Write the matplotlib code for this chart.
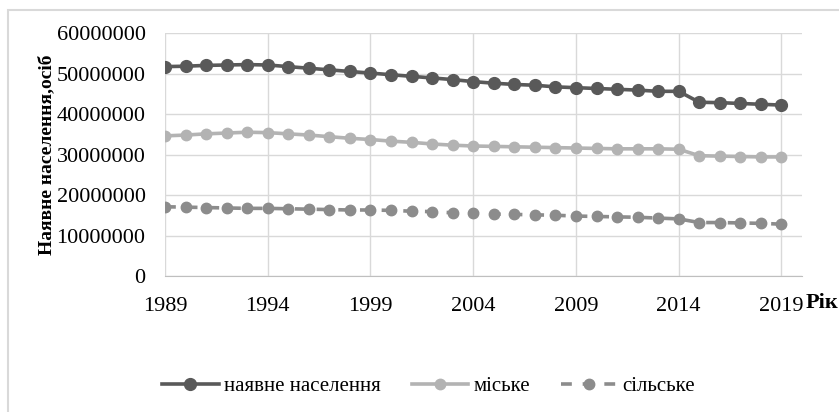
import matplotlib.pyplot as plt
from matplotlib.patches import Rectangle

years = list(range(1989, 2020))
total = [51.7, 51.8, 52.0, 52.1, 52.2, 52.1, 51.7, 51.3, 50.9, 50.5, 50.1, 49.7,
         49.3, 48.9, 48.5, 48.0, 47.6, 47.3, 47.1, 46.7, 46.5, 46.3, 46.1, 45.9,
         45.6, 45.6, 42.9, 42.8, 42.6, 42.4, 42.2]
urban = [34.6, 34.8, 35.1, 35.3, 35.5, 35.4, 35.1, 34.8, 34.4, 34.0, 33.7, 33.3,
         33.0, 32.6, 32.3, 32.1, 32.0, 31.9, 31.8, 31.7, 31.6, 31.5, 31.4, 31.4,
         31.4, 31.3, 29.7, 29.6, 29.5, 29.4, 29.4]
rural = [17.1, 17.0, 16.9, 16.8, 16.7, 16.7, 16.6, 16.5, 16.4, 16.3, 16.3, 16.2,
         16.0, 15.9, 15.6, 15.5, 15.3, 15.2, 15.1, 15.0, 14.8, 14.7, 14.6, 14.5,
         14.3, 14.1, 13.2, 13.2, 13.1, 13.0, 12.8]
labels = ['наявне населення', 'міське', 'сільське']

plt.rcParams['font.family'] = ['Liberation Serif', 'DejaVu Serif']

fig = plt.figure(figsize=(8.39, 4.12), dpi=100)
fig.patches.append(Rectangle((8/839, -0.1), 1.0, 1 - 10/412 + 0.1, transform=fig.transFigure,
                             fill=False, edgecolor='#d9d9d9', linewidth=1.5))
ax = fig.add_axes([165/839, 1 - 276/412, (802 - 165)/839, (276 - 33)/412])

m = 1e6
ax.plot(years, [v * m for v in total], color='#595959', lw=2.6, marker='o', ms=8.5,
        label=labels[0], zorder=4)
ax.plot(years, [v * m for v in urban], color='#b3b3b3', lw=2.6, marker='o', ms=7.5,
        label=labels[1], zorder=3)
ax.plot(years, [v * m for v in rural], color='#8c8c8c', lw=2.6, marker='o', ms=7.5,
        ls=(0, (3, 3)), label=labels[2], zorder=3)

ax.set_xlim(1989, 2020)
ax.set_ylim(0, 60000000)
ax.set_xticks(range(1989, 2020, 5))
ax.set_yticks(range(0, 60000001, 10000000))
ax.set_yticklabels([str(v) for v in range(0, 60000001, 10000000)])
ax.grid(True, color='#d9d9d9', lw=1)
ax.set_axisbelow(True)
for s in ['top', 'right', 'left']:
    ax.spines[s].set_visible(False)
ax.spines['bottom'].set_color('#bfbfbf')
ax.tick_params(length=0, labelsize=16)
ax.tick_params(axis='y', pad=14)
ax.tick_params(axis='x', pad=15)

ax.set_ylabel('Наявне населення,осіб', fontsize=14, fontweight='bold', labelpad=1)
fig.text(806/839, 1 - 303/412, 'Рік', fontsize=16, fontweight='bold', va='center')

fig.legend(loc='center', bbox_to_anchor=(0.511, 1 - 386/412), ncol=3, frameon=False,
           fontsize=15, handlelength=2.7, columnspacing=1.5, handletextpad=0.25)

fig.savefig('out.png', dpi=100)
